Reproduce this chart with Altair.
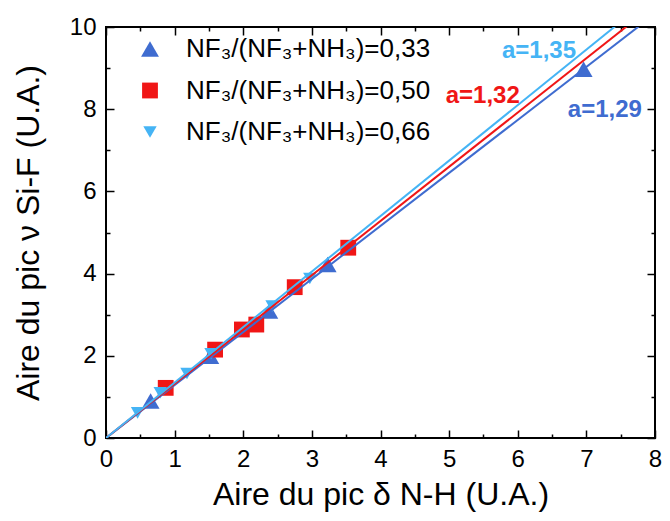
import altair as alt
import pandas as pd

# ---- data ----
series_labels = ["NF₃/(NF₃+NH₃)=0,33", "NF₃/(NF₃+NH₃)=0,50", "NF₃/(NF₃+NH₃)=0,66"]

x33 = [0.65, 1.52, 2.38, 3.23, 6.96]
y33 = [0.90, 1.99, 3.09, 4.22, 8.97]

x50 = [0.87, 1.59, 1.98, 2.19, 2.75, 3.53]
y50 = [1.22, 2.15, 2.64, 2.76, 3.67, 4.63]

x66 = [0.46, 0.79, 1.18, 1.53, 2.42, 2.97]
y66 = [0.61, 1.10, 1.57, 2.05, 3.21, 3.88]

slopes = [1.29, 1.32, 1.35]
slope_texts = ["a=1,29", "a=1,32", "a=1,35"]
slope_text_x = [7.27, 5.49, 6.31]
slope_text_y = [7.99, 8.32, 9.41]

x_domain = [0, 8]
y_domain = [0, 10]
x_major = [0, 1, 2, 3, 4, 5, 6, 7, 8]
x_minor = [0.5, 1.5, 2.5, 3.5, 4.5, 5.5, 6.5, 7.5]
y_major = [0, 2, 4, 6, 8, 10]
y_minor = [1, 3, 5, 7, 9]

# ---- styles ----
colors = ["#3F6CD0", "#F01616", "#45B4F5"]
shapes = ["triangle-up", "square", "triangle-down"]
sizes = [320, 180, 320]
FONT = "Liberation Sans, Arial, DejaVu Sans, sans-serif"

# ---- tables ----
rows = []
for lab, xs_, ys_ in zip(series_labels, [x33, x50, x66], [y33, y50, y66]):
    for a, b in zip(xs_, ys_):
        rows.append({"x": a, "y": b, "series": lab})
pts = pd.DataFrame(rows)

lrows = []
for i, (a, c) in enumerate(zip(slopes, colors)):
    for xv in x_domain:
        lrows.append({"x": xv, "y": a * xv, "line": str(i), "col": c, "ord": i})
lines = pd.DataFrame(lrows)

ann = pd.DataFrame({"x": slope_text_x, "y": slope_text_y, "t": slope_texts, "col": colors})

xs = alt.Scale(domain=x_domain, nice=False, zero=True)
ys = alt.Scale(domain=y_domain, nice=False, zero=True)


def ax(orient, values, size, labels=False, title=None, **kw):
    return alt.Axis(orient=orient, values=values, tickSize=size, offset=-size,
                    labels=labels, title=title, domain=False, grid=False,
                    tickColor="black", tickWidth=1.5, **kw)


label_kw = dict(labelFont=FONT, labelFontSize=24, labelColor="black", labelFlush=False,
                labelOverlap=False, titleFont=FONT, titleFontSize=32,
                titleFontWeight="normal", titleColor="black")

points = alt.Chart(pts).mark_point(filled=True, opacity=1, strokeWidth=0).encode(
    x=alt.X("x:Q", scale=xs,
            axis=ax("bottom", x_major, 8, labels=True, title="Aire du pic δ N-H (U.A.)",
                    labelPadding=9, titlePadding=8, **label_kw)),
    y=alt.Y("y:Q", scale=ys,
            axis=ax("left", y_major, 8, labels=True, title="Aire du pic ν Si-F (U.A.)",
                    labelPadding=10, titlePadding=24, **label_kw)),
    color=alt.Color("series:N", scale=alt.Scale(domain=series_labels, range=colors),
                    legend=alt.Legend(title=None, orient="none", legendX=31, legendY=9,
                                      labelFont=FONT, labelFontSize=26, labelColor="black",
                                      labelLimit=500, rowPadding=15.5, labelOffset=23,
                                      symbolStrokeWidth=0)),
    shape=alt.Shape("series:N", scale=alt.Scale(domain=series_labels, range=shapes)),
    size=alt.Size("series:N", scale=alt.Scale(domain=series_labels, range=sizes)),
)

line_layer = alt.Chart(lines).mark_line(clip=True, strokeWidth=2).encode(
    x=alt.X("x:Q", scale=xs, axis=ax("bottom", x_minor, 4)),
    y=alt.Y("y:Q", scale=ys, axis=ax("left", y_minor, 4)),
    color=alt.Color("col:N", scale=None),
    detail="line:N",
    order="ord:Q",
)

text_layer = alt.Chart(ann).mark_text(font=FONT, fontSize=24, fontWeight="bold",
                                      align="center", baseline="middle").encode(
    x=alt.X("x:Q", scale=xs, axis=ax("top", x_major, 8)),
    y=alt.Y("y:Q", scale=ys, axis=ax("right", y_major, 8)),
    text="t:N",
    color=alt.Color("col:N", scale=None),
)

dummy = alt.Chart(pts).mark_point(opacity=0).encode(
    x=alt.X("x:Q", scale=xs, axis=ax("top", x_minor, 4)),
    y=alt.Y("y:Q", scale=ys, axis=ax("right", y_minor, 4)),
)

chart = alt.layer(points, line_layer, text_layer, dummy).resolve_axis(
    x="independent", y="independent"
).properties(
    width=549, height=411,
    autosize=alt.AutoSizeParams(type="none"),
    padding={"left": 98, "top": 19, "right": 7, "bottom": 75},
    background="white",
).configure_view(stroke="black", strokeWidth=2)

chart.save("out.html", embed_options={"renderer": "svg", "actions": False})
